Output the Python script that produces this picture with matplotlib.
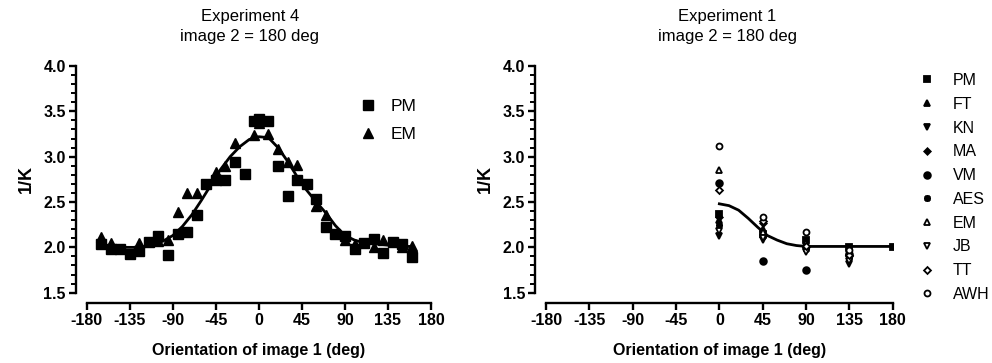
import matplotlib
matplotlib.use('Agg')
from matplotlib import pyplot as plt
from matplotlib.ticker import MultipleLocator

plt.rcParams['font.family'] = ['Liberation Sans', 'DejaVu Sans']

nan = float('nan')

# Experiment 4 (left panel)
pm4_x = [-165, -155, -145, -135, -125, -115, -105, -95, -85, -75, -65, -55, -45, -35, -25, -15, -5, 0,
         10, 20, 30, 40, 50, 60, 70, 80, 90, 100, 110, 120, 130, 140, 150, 160]
pm4_y = [2.04, 1.98, 1.98, 1.93, 1.96, 2.06, 2.12, 1.92, 2.15, 2.17, 2.36, 2.70, 2.74, 2.74, 2.94, 2.81, 3.39, 3.41,
         3.39, 2.90, 2.57, 2.74, 2.70, 2.53, 2.22, 2.15, 2.13, 1.98, 2.05, 2.09, 1.94, 2.06, 2.04, 1.89]
em4_x = [-165, -155, -125, -105, -95, -85, -75, -65, -45, -35, -25, -5, 0,
         10, 20, 30, 40, 60, 70, 90, 100, 120, 130, 150, 160]
em4_y = [2.11, 2.05, 2.05, 2.07, 2.08, 2.39, 2.60, 2.60, 2.83, 2.90, 3.15, 3.24, 3.37,
         3.25, 3.09, 2.94, 2.91, 2.46, 2.36, 2.08, 2.04, 2.00, 2.08, 2.00, 2.01]
fit4_x = [-165, -150, -140, -130, -120, -110, -100, -90, -80, -70, -60, -50, -40, -30, -20, -10, 0,
          10, 20, 30, 40, 50, 60, 70, 80, 90, 100, 110, 120, 130, 140, 150, 160]
fit4_y = [2.00, 2.00, 2.00, 2.00, 2.01, 2.03, 2.07, 2.13, 2.23, 2.36, 2.52, 2.69, 2.86, 3.00, 3.11, 3.19, 3.22,
          3.21, 3.10, 2.95, 2.78, 2.63, 2.50, 2.38, 2.24, 2.13, 2.08, 2.05, 2.04, 2.03, 2.02, 2.01, 2.01]

# Experiment 1 (right panel)
orient1 = [0, 45, 90, 135, 180]
pm1 = [2.37, 2.15, 2.08, 2.00, 2.00]
ft1 = [2.30, 2.20, 2.03, 1.95, nan]
kn1 = [2.13, 2.08, 1.96, 1.82, nan]
ma1 = [2.33, 2.27, 2.00, 1.90, nan]
vm1 = [2.71, 1.85, 1.75, 1.93, nan]
aes1 = [2.25, 2.12, 1.98, 1.88, nan]
em1 = [2.85, 2.17, 2.05, 1.98, nan]
jb1 = [2.18, 2.10, 1.95, 1.85, nan]
tt1 = [2.63, 2.29, 2.02, 1.92, nan]
awh1 = [3.12, 2.33, 2.17, 1.97, nan]
fit1_x = [0, 10, 20, 30, 40, 50, 60, 70, 80, 90, 100, 120, 140, 160, 180]
fit1_y = [2.48, 2.46, 2.41, 2.32, 2.22, 2.13, 2.08, 2.04, 2.02, 2.01, 2.01, 2.01, 2.01, 2.01, 2.01]

xticks = [-180, -135, -90, -45, 0, 45, 90, 135, 180]


def style_axes(ax):
    ax.set_xlim(-180, 180)
    ax.set_ylim(1.5, 4.0)
    for s in ['top', 'right']:
        ax.spines[s].set_visible(False)
    ax.spines['left'].set_position(('outward', 8))
    ax.spines['bottom'].set_position(('outward', 7.5))
    ax.spines['left'].set_bounds(1.5, 4.0)
    ax.spines['bottom'].set_bounds(-180, 180)
    for s in ['left', 'bottom']:
        ax.spines[s].set_linewidth(1.7)
    ax.set_xticks(xticks)
    ax.set_xticklabels([str(t) for t in xticks])
    ax.yaxis.set_major_locator(MultipleLocator(0.5))
    ax.yaxis.set_minor_locator(MultipleLocator(0.1))
    ax.yaxis.set_major_formatter(plt.FormatStrFormatter('%.1f'))
    ax.tick_params(axis='both', which='major', length=5, width=1.7, labelsize=11.5, pad=2)
    ax.tick_params(axis='y', which='minor', length=3.5, width=1.4)
    for lab in ax.get_xticklabels() + ax.get_yticklabels():
        lab.set_fontweight('bold')
    ax.set_xlabel('Orientation of image 1 (deg)', fontsize=11.5, fontweight='bold', labelpad=11)
    ax.set_ylabel('1/K', fontsize=13, fontweight='bold', labelpad=6)


fig = plt.figure(figsize=(9.92, 3.63), dpi=100)
ax1 = fig.add_axes([0.0874, 0.1937, 0.3471, 0.6245])
ax2 = fig.add_axes([0.5504, 0.1937, 0.3495, 0.6245])

# left panel
ax1.plot(fit4_x, fit4_y, '-', color='black', lw=2.0, zorder=3)
ax1.plot(pm4_x, pm4_y, 's', color='black', ms=6.5, ls='none', label='PM', zorder=4)
ax1.plot(em4_x, em4_y, '^', color='black', ms=7, ls='none', label='EM', zorder=4)
style_axes(ax1)
ax1.legend(loc='upper left', bbox_to_anchor=(359 / 992, 1 - 99 / 363), bbox_transform=fig.transFigure,
           frameon=False, fontsize=12.5, handlelength=1.0, handletextpad=0.8, labelspacing=0.75,
           borderpad=0, borderaxespad=0)

# right panel
ax2.plot(fit1_x, fit1_y, '-', color='black', lw=2.0, zorder=3)
series = [
    (pm1, 's', 'black', 'PM', 4.5),
    (ft1, '^', 'black', 'FT', 4.5),
    (kn1, 'v', 'black', 'KN', 4.5),
    (ma1, 'D', 'black', 'MA', 3.3),
    (vm1, 'o', 'black', 'VM', 4.8),
    (aes1, (8, 2, 0), 'black', 'AES', 5),
    (em1, '^', 'white', 'EM', 4.5),
    (jb1, 'v', 'white', 'JB', 4.5),
    (tt1, 'D', 'white', 'TT', 3.5),
    (awh1, 'o', 'white', 'AWH', 4.3),
]
for vals, mk, face, name, size in series:
    ax2.plot(orient1, vals, marker=mk, ls='none', ms=size, mfc=face, mec='black', mew=1.3,
             color='black', label=name, zorder=4)
style_axes(ax2)
ax2.legend(loc='upper left', bbox_to_anchor=(919 / 992, 1 - 73 / 363), bbox_transform=fig.transFigure,
           frameon=False, fontsize=11.5, handlelength=1.0, handletextpad=1.1, labelspacing=0.55,
           borderpad=0, borderaxespad=0)

fig.text(250 / 992, 1 - 17 / 363, 'Experiment 4', ha='center', va='center', fontsize=12)
fig.text(250 / 992, 1 - 37 / 363, 'image 2 = 180 deg', ha='center', va='center', fontsize=12)
fig.text(727 / 992, 1 - 17 / 363, 'Experiment 1', ha='center', va='center', fontsize=12)
fig.text(727 / 992, 1 - 37 / 363, 'image 2 = 180 deg', ha='center', va='center', fontsize=12)

fig.savefig('out.png', dpi=100)
